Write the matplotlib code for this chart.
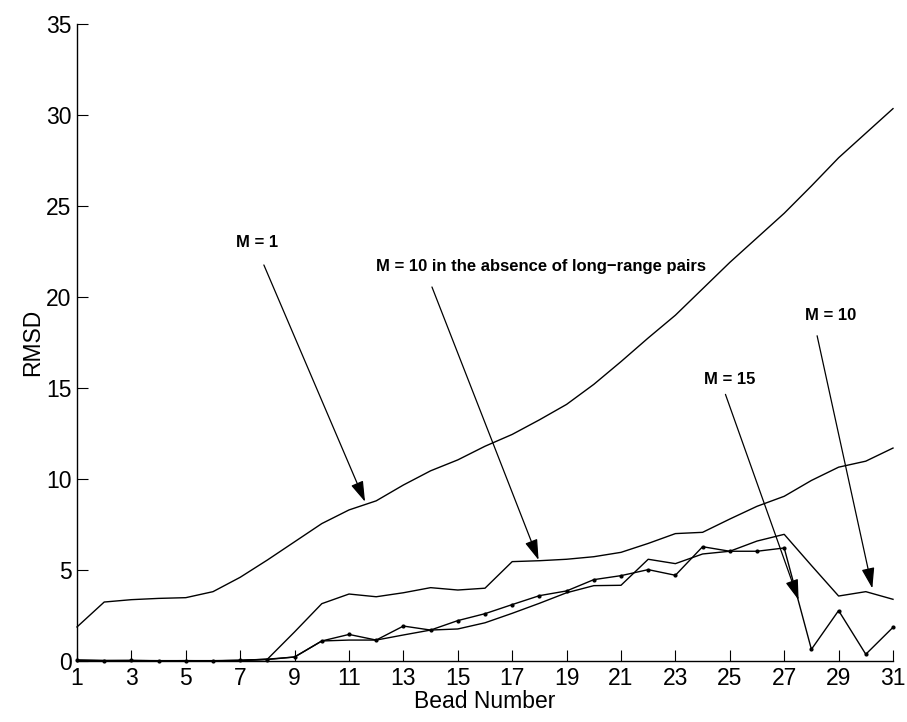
import matplotlib
matplotlib.use("Agg")
import matplotlib.pyplot as plt

plt.rcParams['font.family'] = ['Liberation Sans', 'DejaVu Sans']

beads = list(range(1, 32))

rmsd_m1 = [1.87, 3.24, 3.37, 3.44, 3.48, 3.81, 4.6, 5.55, 6.55, 7.55, 8.3, 8.8,
           9.67, 10.45, 11.05, 11.8, 12.45, 13.25, 14.1, 15.2, 16.45, 17.75,
           19.0, 20.45, 21.9, 23.25, 24.6, 26.1, 27.65, 29.0, 30.35]

rmsd_m10_no_lr = [0.02, 0.01, 0.01, 0.01, 0.01, 0.01, 0.03, 0.1, 1.6, 3.15,
                  3.68, 3.53, 3.75, 4.03, 3.9, 4.0, 5.46, 5.51, 5.59, 5.73,
                  5.97, 6.46, 7.0, 7.07, 7.8, 8.5, 9.05, 9.92, 10.65, 10.98,
                  11.7]

rmsd_m10 = [0.05, 0.03, 0.03, 0.02, 0.02, 0.02, 0.04, 0.1, 0.22, 1.1, 1.15,
            1.15, 1.43, 1.70, 1.76, 2.1, 2.62, 3.17, 3.75, 4.14, 4.16, 5.59,
            5.35, 5.88, 6.03, 6.59, 6.96, 5.25, 3.57, 3.81, 3.39]

rmsd_m15 = [0.05, 0.02, 0.03, 0.01, 0.02, 0.01, 0.03, 0.08, 0.22, 1.1, 1.46,
            1.15, 1.92, 1.70, 2.22, 2.6, 3.1, 3.59, 3.85, 4.47, 4.69, 5.02,
            4.71, 6.28, 6.03, 6.03, 6.21, 0.64, 2.77, 0.37, 1.85]

xticks = list(range(1, 32, 2))
yticks = list(range(0, 36, 5))

fig = plt.figure(figsize=(9.07, 7.22), dpi=100)
ax = fig.add_axes([77 / 907, 61 / 722, 816 / 907, 637 / 722])

lw = 1.0
ax.plot(beads, rmsd_m1, color='k', lw=lw, clip_on=False)
ax.plot(beads, rmsd_m10_no_lr, color='k', lw=lw, clip_on=False)
ax.plot(beads, rmsd_m10, color='k', lw=lw, clip_on=False)
ax.plot(beads, rmsd_m15, color='k', lw=lw, marker='.', markersize=4,
        clip_on=False)

ax.set_xlim(1, 31)
ax.set_ylim(0, 35)
ax.set_xticks(xticks)
ax.set_yticks(yticks)
ax.tick_params(direction='in', length=8, width=0.8, labelsize=16.5, pad=4)
for side in ('top', 'right'):
    ax.spines[side].set_visible(False)
for side in ('left', 'bottom'):
    ax.spines[side].set_linewidth(1.0)

ax.set_xlabel('Bead Number', fontsize=16.5, labelpad=0)
ax.set_ylabel('RMSD', fontsize=16.5, labelpad=1)

arrow = dict(arrowstyle='-|>,head_length=0.7,head_width=0.22', color='k',
             lw=0.9, mutation_scale=18, shrinkA=0, shrinkB=0)
labels = [
    ('M = 1', (7.61, 22.97), (7.87, 21.76), (11.59, 8.75)),
    ('M = 10 in the absence of long\u2212range pairs', (18.07, 21.70),
     (14.05, 20.55), (17.97, 5.55)),
    ('M = 15', (24.99, 15.44), (24.84, 14.65), (27.53, 3.35)),
    ('M = 10', (28.70, 19.01), (28.21, 17.87), (30.24, 3.99)),
]
for text, tpos, start, tip in labels:
    ax.text(tpos[0], tpos[1], text, fontsize=12, fontweight='bold',
            ha='center', va='center')
    ax.annotate('', xy=tip, xytext=start, arrowprops=arrow)

fig.savefig('out.png', dpi=100)
